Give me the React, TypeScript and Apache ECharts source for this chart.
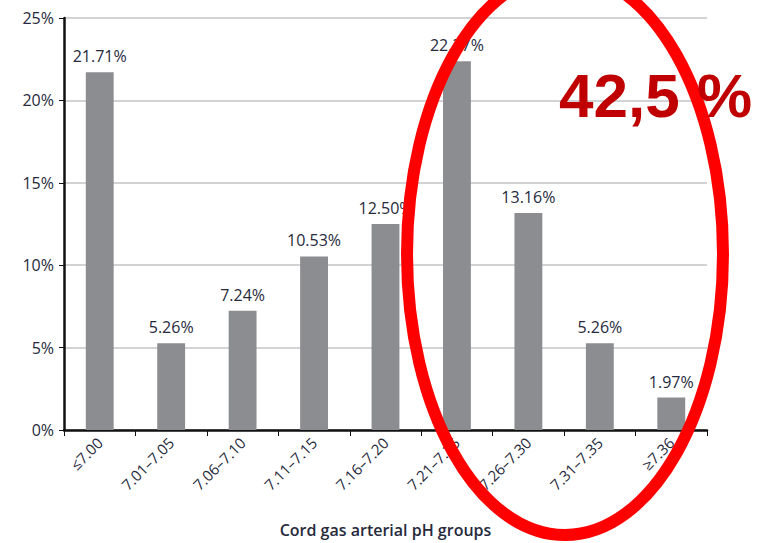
import React, { useEffect, useRef } from "react";
import * as echarts from "echarts";

const categories = ["≤7.00", "7.01–7.05", "7.06–7.10", "7.11–7.15", "7.16–7.20", "7.21–7.25", "7.26–7.30", "7.31–7.35", "≥7.36"];
const percentages = [21.71, 5.26, 7.24, 10.53, 12.5, 22.37, 13.16, 5.26, 1.97];
const yTicks = [0, 5, 10, 15, 20, 25];
const highlightText = "42,5 %";

const FONT = "'Open Sans', Lato, sans-serif";
const TEXT = "#262a3c";

export default function App() {
  const ref = useRef<HTMLDivElement>(null);

  useEffect(() => {
    if (!ref.current) return;
    const chart = echarts.init(ref.current, null, { renderer: "svg" });
    chart.setOption({
      animation: false,
      backgroundColor: "#ffffff",
      grid: { left: 64, right: 66, top: 18, bottom: 110, containLabel: false },
      xAxis: {
        type: "category",
        data: categories,
        boundaryGap: true,
        name: "Cord gas arterial pH groups",
        nameLocation: "middle",
        nameGap: 92,
        nameTextStyle: { color: TEXT, fontFamily: FONT, fontSize: 16, fontWeight: 600 },
        axisLine: { lineStyle: { color: "#111", width: 2.5 } },
        axisTick: { show: true, length: 6, lineStyle: { color: "#111", width: 1 } },
        axisLabel: { rotate: 45, color: TEXT, fontFamily: FONT, fontSize: 15, margin: 10, interval: 0 },
      },
      yAxis: {
        type: "value",
        min: yTicks[0],
        max: yTicks[yTicks.length - 1],
        interval: 5,
        axisLine: { show: true, lineStyle: { color: "#111", width: 2.5 } },
        axisTick: { show: true, length: 5, lineStyle: { color: "#111" } },
        axisLabel: { formatter: "{value}%", color: TEXT, fontFamily: FONT, fontSize: 16, margin: 10 },
        splitLine: { lineStyle: { color: "#c4c4c8", width: 1.5 } },
      },
      series: [
        {
          type: "bar",
          data: percentages,
          barWidth: "39%",
          itemStyle: { color: "#8c8d91" },
          label: {
            show: true,
            position: "top",
            distance: 8,
            formatter: (p: any) => p.value.toFixed(2) + "%",
            color: TEXT,
            fontFamily: FONT,
            fontSize: 16,
          },
        },
      ],
      graphic: [
        {
          type: "ellipse",
          shape: { cx: 565, cy: 254, rx: 158, ry: 281 },
          style: { fill: "none", stroke: "#ff0000", lineWidth: 12 },
          z: 100,
        },
        {
          type: "text",
          left: 559,
          top: 64,
          style: {
            text: highlightText,
            fill: "#c00000",
            font: "bold 62px 'Liberation Sans', Arial, sans-serif",
          },
          z: 101,
        },
      ],
    });
    return () => chart.dispose();
  }, []);

  return <div ref={ref} style={{ width: 773, height: 543, position: "absolute", left: 0, top: 0 }} />;
}
